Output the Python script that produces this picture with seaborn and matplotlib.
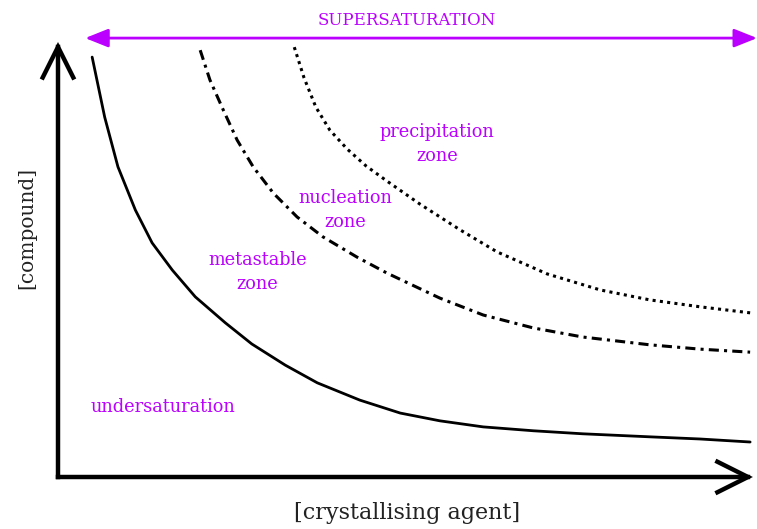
import matplotlib
matplotlib.use("Agg")
import matplotlib.pyplot as plt
import seaborn as sns

# ---------------------------------------------------
# Daten (Achsen 0..100)
# ---------------------------------------------------
solub_x = [4.9, 6.7, 8.6, 11.1, 13.5, 16.4, 19.7, 24.0, 27.8, 32.6, 37.2,
           43.3, 49.1, 54.8, 61.0, 68.2, 75.3, 84.9, 92.1, 99.3]
solub_y = [97.2, 83.3, 71.8, 61.8, 54.2, 47.9, 41.7, 35.7, 30.8, 25.9, 21.8,
           17.8, 14.8, 13.0, 11.6, 10.7, 10.0, 9.3, 8.8, 8.1]

nucl_x = [20.4, 21.8, 23.7, 25.7, 28.0, 30.9, 34.3, 38.0, 42.9, 47.2,
          54.8, 61.0, 68.2, 75.3, 84.9, 92.1, 99.3]
nucl_y = [98.8, 91.9, 85.0, 78.0, 71.8, 65.7, 60.2, 55.6, 50.9, 47.2,
          41.4, 37.5, 34.5, 32.4, 30.6, 29.6, 28.9]

precip_x = [33.9, 35.3, 37.0, 39.0, 41.5, 44.2, 47.2, 51.9, 57.7, 63.0,
            70.2, 77.8, 84.9, 92.1, 99.3]
precip_y = [99.5, 92.4, 85.6, 80.3, 75.9, 72.0, 68.5, 63.2, 57.2, 52.1,
            47.0, 43.3, 41.0, 39.4, 38.0]

zone_labels = ["precipitation\nzone", "nucleation\nzone", "metastable\nzone",
               "undersaturation"]
zone_x = [54.4, 41.2, 28.6, 15.1]
zone_y = [77.1, 61.8, 47.4, 16.2]

PURPLE = "#BB00FF"

sns.set_style("white")
plt.rcParams["font.family"] = ["DejaVu Serif"]

fig = plt.figure(figsize=(7.57, 5.29), dpi=100)
ax = fig.add_axes([58 / 757, 52 / 529, 697 / 757, 432 / 529])
ax.set_xlim(0, 100)
ax.set_ylim(0, 100)
ax.set_axis_off()

# Kurven
sns.lineplot(x=solub_x, y=solub_y, ax=ax, color="black", lw=2.0,
             solid_capstyle="round", solid_joinstyle="round")
sns.lineplot(x=nucl_x, y=nucl_y, ax=ax, color="black", lw=2.2,
             linestyle=(0, (3.3, 1.7, 1, 1.7)))
sns.lineplot(x=precip_x, y=precip_y, ax=ax, color="black", lw=2.2,
             linestyle=(0, (1, 1.4)))

# Achsenpfeile
axis_arrow = dict(arrowstyle="->,head_length=1.1,head_width=0.55",
                  lw=3.2, color="black", mutation_scale=20,
                  shrinkA=0, shrinkB=0, joinstyle="miter", capstyle="projecting")
ax.annotate("", xy=(0, 100.7), xytext=(0, 0), xycoords="data",
            arrowprops=axis_arrow, annotation_clip=False)
ax.annotate("", xy=(99.7, 0), xytext=(0, 0), xycoords="data",
            arrowprops=axis_arrow, annotation_clip=False)

# Supersaturation-Pfeil
ax.annotate("", xy=(100.3, 101.6), xytext=(3.9, 101.6),
            arrowprops=dict(arrowstyle="<|-|>,head_length=0.7,head_width=0.28",
                            lw=2.0, color=PURPLE, mutation_scale=20,
                            shrinkA=0, shrinkB=0),
            annotation_clip=False)
ax.text(50.1, 105.6, "SUPERSATURATION", color=PURPLE, fontsize=12,
        ha="center", va="center", clip_on=False)

# Zonen-Beschriftungen
for lab, zx, zy in zip(zone_labels, zone_x, zone_y):
    ax.text(zx, zy, lab, color=PURPLE, fontsize=12.8, ha="center",
            va="center", linespacing=1.45)

# Achsentitel
ax.text(-4.45, 57.6, "[compound]", rotation=90, fontsize=14.5,
        ha="center", va="center", color="#222222", clip_on=False)
ax.text(50.1, -8.3, "[crystallising agent]", fontsize=16,
        ha="center", va="center", color="#222222", clip_on=False)

fig.savefig("out.png", dpi=100)
